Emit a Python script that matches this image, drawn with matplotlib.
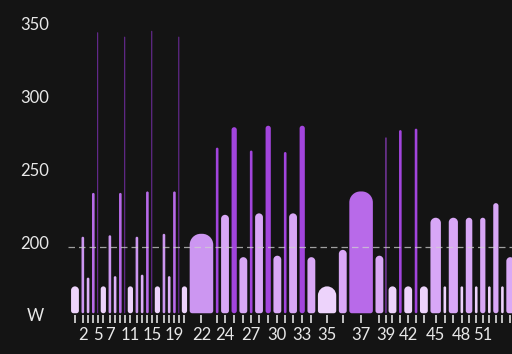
import numpy as np
import matplotlib
matplotlib.use('Agg')
import matplotlib.pyplot as plt
from matplotlib.patches import PathPatch
from matplotlib.path import Path
from matplotlib.transforms import blended_transform_factory

# interval durations (s) and target power (W), in workout order
durations = [120,
             60, 60, 60, 40, 90,
             60, 60, 60, 40, 90,
             60, 60, 60, 40, 90,
             60, 60, 60, 40, 90,
             300,
             60, 120, 90, 120,
             60, 120, 90, 120,
             60, 120, 90, 120,
             240, 120, 300, 120,
             30, 120, 60, 120, 60, 120,
             150, 60, 135, 60, 105, 60, 90, 60, 90, 60, 120]
watts = [171,
         205, 177, 235, 345, 171,
         206, 178, 235, 342, 171,
         205, 179, 236, 346, 171,
         207, 178, 236, 342, 171,
         207,
         266, 220, 280, 191,
         264, 221, 281, 192,
         263, 221, 281, 191,
         171, 196, 236, 192,
         273, 171, 278, 171, 279, 171,
         218, 171, 218, 171, 218, 171, 218, 171, 228, 171, 191]
labeled = [2, 5, 7, 11, 15, 19, 22, 24, 27, 30, 33, 35, 37, 39, 42, 45, 48, 51]
ftp = 198
y_ticks = [200, 250, 300, 350]

bg = '#141414'
base = 152.6
gap = 30
K = 0.5523


def zone_color(w):
    if w < 175:
        return '#edd3fb'
    if w < 185:
        return '#dcb0f7'
    if w < 200:
        return '#d9a8f6'
    if w < 212:
        return '#cc96f1'
    if w < 230:
        return '#d8a7f6'
    if w < 255:
        return '#b86ae9'
    if w < 300:
        return '#a245dd'
    return '#6e2c9c'


def bar_path(x0, y0, x1, y1, rx, ry, bx, by):
    verts = [(x0 + bx, y0), (x1 - bx, y0),
             (x1 - bx + K * bx, y0), (x1, y0 + by - K * by), (x1, y0 + by),
             (x1, y1 - ry),
             (x1, y1 - ry + K * ry), (x1 - rx + K * rx, y1), (x1 - rx, y1),
             (x0 + rx, y1),
             (x0 + rx - K * rx, y1), (x0, y1 - ry + K * ry), (x0, y1 - ry),
             (x0, y0 + by),
             (x0, y0 + by - K * by), (x0 + bx - K * bx, y0), (x0 + bx, y0),
             (x0 + bx, y0)]
    codes = [Path.MOVETO, Path.LINETO,
             Path.CURVE4, Path.CURVE4, Path.CURVE4,
             Path.LINETO,
             Path.CURVE4, Path.CURVE4, Path.CURVE4,
             Path.LINETO,
             Path.CURVE4, Path.CURVE4, Path.CURVE4,
             Path.LINETO,
             Path.CURVE4, Path.CURVE4, Path.CURVE4,
             Path.CLOSEPOLY]
    return Path(verts, codes)


fig = plt.figure(figsize=(5.12, 3.54), dpi=100, facecolor=bg)
ax = fig.add_axes([68 / 512, 39 / 354, 444 / 512, 315 / 354])
ax.set_facecolor(bg)
ax.set_xlim(-20, 5070)
ax.set_ylim(151.4, 367.1)

bb = ax.get_window_extent()
px_x = bb.width / (5070 + 20)
px_y = bb.height / (367.1 - 151.4)

starts = np.concatenate([[0], np.cumsum(durations)[:-1]])
centers = starts + np.array(durations) / 2

for s, d, w in zip(starts, durations, watts):
    bw = max(d - gap, 12)
    h = w - base
    rpx = min(bw * px_x / 2, 11, h * px_y / 2)
    bpx = min(bw * px_x / 2, 2.5)
    x0 = s + (d - bw) / 2
    p = bar_path(x0, base, x0 + bw, w, rpx / px_x, rpx / px_y, bpx / px_x, bpx / px_y)
    ax.add_patch(PathPatch(p, fc=zone_color(w), ec='none', lw=0, zorder=2))

ax.axhline(ftp, color='#d0d0d0', lw=0.9, dashes=(5.2, 3.2), alpha=0.75, zorder=5)

ax.set_xticks(centers)
ax.set_xticklabels([str(i + 1) if (i + 1) in labeled else '' for i in range(len(durations))])
ax.tick_params(axis='x', length=5.8, width=1.2, color='#dedede', pad=3.0,
               labelsize=12, labelcolor='#e8e8e8')
for lbl in ax.get_xticklabels():
    lbl.set_fontfamily('Lato')
ax.set_yticks([])
for sp in ax.spines.values():
    sp.set_visible(False)

tr = blended_transform_factory(fig.transFigure, ax.transData)
for v in y_ticks:
    ax.text(35 / 512, v, str(v), transform=tr, ha='center', va='center',
            fontsize=12, color='#e8e8e8', family='Lato')
ax.text(35 / 512, 150.5, 'W', transform=tr, ha='center', va='center',
        fontsize=12, color='#e8e8e8', family='Lato', clip_on=False)

fig.savefig('out.png', dpi=100, facecolor=bg)
